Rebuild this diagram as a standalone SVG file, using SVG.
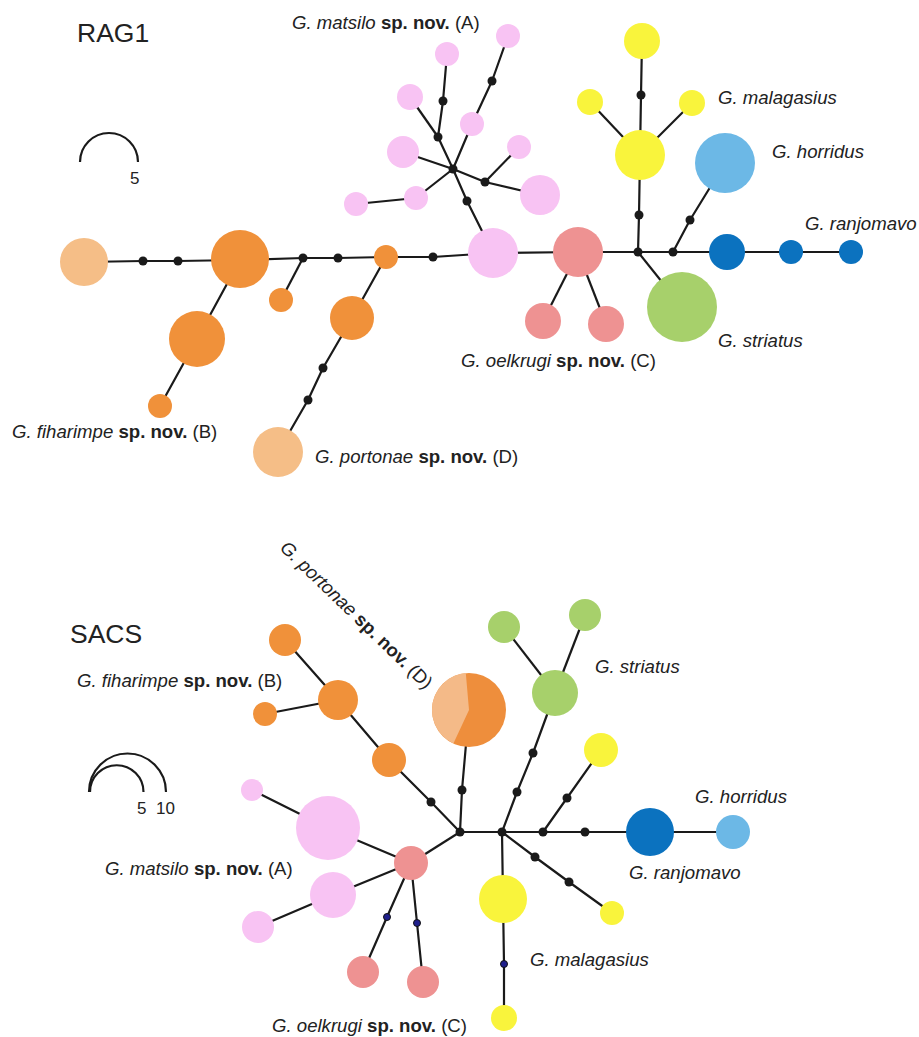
<svg xmlns="http://www.w3.org/2000/svg" width="919" height="1037" viewBox="0 0 919 1037">
<style>
.e{stroke:#1a1a1a;stroke-width:2.2;fill:none;stroke-linejoin:round}
.m{fill:#1a1a1a}
.nv{fill:#1f1f8c;stroke:#111;stroke-width:1}
.pk{fill:#F8C3F3}
.or{fill:#F0913A}
.lo{fill:#F5BE87}
.sa{fill:#EE9292}
.ye{fill:#F9F43C}
.gr{fill:#A7D06B}
.db{fill:#0B72BF}
.lb{fill:#6CB8E6}
text{font-family:"Liberation Sans",Arial,sans-serif;fill:#222}
.lab{font-size:18.6px}
.t{font-size:26.5px}
.sc{font-size:17px}
</style>
<rect width="919" height="1037" fill="#fff"/>

<!-- ================= RAG1 ================= -->
<text class="t" x="77" y="42">RAG1</text>
<g id="rag1-scale">
<path class="e" d="M80,162 A29,29 0 0 1 138,162"/>
<text class="sc" x="130" y="184">5</text>
</g>

<g id="rag1-connectors">
<polyline class="e" points="84,262 143,261 178,261 240,260 303,258 338,258 386,257 433,257 493,253 578,252 638,252 673,252 727,252 791,252 851,252"/>
<polyline class="e" points="240,260 197,339 160,406"/>
<polyline class="e" points="303,258 281,300"/>
<polyline class="e" points="386,257 352,318 323,368 308,400 278,452"/>
<polyline class="e" points="493,253 467,201 453,169"/>
<polyline class="e" points="453,169 438,137 443,101 447,54"/>
<polyline class="e" points="438,137 410,97"/>
<polyline class="e" points="453,169 472,124 492,81 508,36"/>
<polyline class="e" points="453,169 403,152"/>
<polyline class="e" points="453,169 416,198 356,204"/>
<polyline class="e" points="453,169 485,182 540,195"/>
<polyline class="e" points="485,182 519,147"/>
<polyline class="e" points="578,252 543,321"/>
<polyline class="e" points="578,252 606,324"/>
<polyline class="e" points="638,252 639,215 640,155 641,95 642,41"/>
<polyline class="e" points="640,155 590,102"/>
<polyline class="e" points="640,155 692,103"/>
<polyline class="e" points="638,252 682,307"/>
<polyline class="e" points="673,252 690,220 725,163"/>
</g>

<g id="rag1-medians">
<circle class="m" cx="143" cy="261" r="4.5"/>
<circle class="m" cx="178" cy="261" r="4.5"/>
<circle class="m" cx="303" cy="258" r="4.5"/>
<circle class="m" cx="338" cy="258" r="4.5"/>
<circle class="m" cx="433" cy="257" r="4.5"/>
<circle class="m" cx="323" cy="368" r="4.5"/>
<circle class="m" cx="308" cy="400" r="4.5"/>
<circle class="m" cx="453" cy="169" r="4.5"/>
<circle class="m" cx="438" cy="137" r="4.5"/>
<circle class="m" cx="443" cy="101" r="4.5"/>
<circle class="m" cx="492" cy="81" r="4.5"/>
<circle class="m" cx="485" cy="182" r="4.5"/>
<circle class="m" cx="467" cy="201" r="4.5"/>
<circle class="m" cx="638" cy="252" r="4.5"/>
<circle class="m" cx="673" cy="252" r="4.5"/>
<circle class="m" cx="639" cy="215" r="4.5"/>
<circle class="m" cx="641" cy="95" r="4.5"/>
<circle class="m" cx="690" cy="220" r="4.5"/>
</g>

<g id="r-lo1"><circle class="lo" cx="84" cy="262" r="24"/></g>
<g id="r-or1"><circle class="or" cx="240" cy="259" r="29"/></g>
<g id="r-or2"><circle class="or" cx="197" cy="339" r="28"/></g>
<g id="r-or3"><circle class="or" cx="160" cy="406" r="12"/></g>
<g id="r-or4"><circle class="or" cx="281" cy="300" r="12"/></g>
<g id="r-or5"><circle class="or" cx="386" cy="257" r="12"/></g>
<g id="r-or6"><circle class="or" cx="352" cy="318" r="22"/></g>
<g id="r-lo2"><circle class="lo" cx="278" cy="452" r="25"/></g>
<g id="r-pk1"><circle class="pk" cx="493" cy="253" r="25"/></g>
<g id="r-pk2"><circle class="pk" cx="508" cy="36" r="12"/></g>
<g id="r-pk3"><circle class="pk" cx="472" cy="124" r="12"/></g>
<g id="r-pk4"><circle class="pk" cx="447" cy="54" r="12"/></g>
<g id="r-pk5"><circle class="pk" cx="410" cy="97" r="13"/></g>
<g id="r-pk6"><circle class="pk" cx="403" cy="152" r="16"/></g>
<g id="r-pk7"><circle class="pk" cx="416" cy="198" r="12"/></g>
<g id="r-pk8"><circle class="pk" cx="356" cy="204" r="12"/></g>
<g id="r-pk9"><circle class="pk" cx="540" cy="195" r="20"/></g>
<g id="r-pk10"><circle class="pk" cx="519" cy="147" r="12"/></g>
<g id="r-sa1"><circle class="sa" cx="578" cy="252" r="25"/></g>
<g id="r-sa2"><circle class="sa" cx="543" cy="321" r="18"/></g>
<g id="r-sa3"><circle class="sa" cx="606" cy="324" r="18"/></g>
<g id="r-gr1"><circle class="gr" cx="682" cy="307" r="35"/></g>
<g id="r-ye1"><circle class="ye" cx="642" cy="41" r="18"/></g>
<g id="r-ye2"><circle class="ye" cx="640" cy="155" r="25"/></g>
<g id="r-ye3"><circle class="ye" cx="590" cy="102" r="13"/></g>
<g id="r-ye4"><circle class="ye" cx="692" cy="103" r="13"/></g>
<g id="r-lb1"><circle class="lb" cx="725" cy="163" r="30"/></g>
<g id="r-db1"><circle class="db" cx="727" cy="252" r="18"/></g>
<g id="r-db2"><circle class="db" cx="791" cy="252" r="12"/></g>
<g id="r-db3"><circle class="db" cx="851" cy="252" r="12"/></g>

<rect x="440" y="342" width="320" height="32" fill="#fff"/>
<g id="rag1-labels" class="lab">
<text x="292" y="29"><tspan font-style="italic">G. matsilo</tspan> <tspan font-weight="bold">sp. nov.</tspan> (A)</text>
<text x="718" y="104" font-style="italic">G. malagasius</text>
<text x="772" y="158" font-style="italic">G. horridus</text>
<text x="805" y="230" font-style="italic">G. ranjomavo</text>
<text x="718" y="347" font-style="italic">G. striatus</text>
<text x="461" y="367"><tspan font-style="italic">G. oelkrugi</tspan> <tspan font-weight="bold">sp. nov.</tspan> (C)</text>
<text x="12" y="438"><tspan font-style="italic">G. fiharimpe</tspan> <tspan font-weight="bold">sp. nov.</tspan> (B)</text>
<text x="315" y="463"><tspan font-style="italic">G. portonae</tspan> <tspan font-weight="bold">sp. nov.</tspan> (D)</text>
</g>

<!-- ================= SACS ================= -->
<text class="t" x="70" y="643">SACS</text>
<g id="sacs-scale">
<path class="e" d="M89,792 A38.5,38.5 0 0 1 166,792"/>
<path class="e" d="M90,792 A26.75,26.75 0 0 1 143.5,792"/>
<text class="sc" x="137" y="814">5</text>
<text class="sc" x="156" y="814">10</text>
</g>

<g id="sacs-connectors">
<polyline class="e" points="285,640 338,700 389,760 431,802 460,832"/>
<polyline class="e" points="338,700 265,714"/>
<polyline class="e" points="469,710 462,790 460,832"/>
<polyline class="e" points="460,832 502,832 543,832 585,832 650,832 733,832"/>
<polyline class="e" points="555,693 504,627"/>
<polyline class="e" points="555,693 585,615"/>
<polyline class="e" points="555,693 533,753 517,792 502,832"/>
<polyline class="e" points="601,750 567,798 543,832"/>
<polyline class="e" points="502,832 535,857 569,882 612,913"/>
<polyline class="e" points="502,832 503,899 504,964 504,1018"/>
<polyline class="e" points="460,832 411,863"/>
<polyline class="e" points="411,863 328,828 252,790"/>
<polyline class="e" points="411,863 333,895 258,927"/>
<polyline class="e" points="411,863 387,917 363,972"/>
<polyline class="e" points="411,863 417,923 423,982"/>
</g>

<g id="sacs-medians">
<circle class="m" cx="431" cy="802" r="4.5"/>
<circle class="m" cx="460" cy="832" r="4.5"/>
<circle class="m" cx="462" cy="790" r="4.5"/>
<circle class="m" cx="502" cy="832" r="4.5"/>
<circle class="m" cx="543" cy="832" r="4.5"/>
<circle class="m" cx="585" cy="832" r="4.5"/>
<circle class="m" cx="533" cy="753" r="4.5"/>
<circle class="m" cx="517" cy="792" r="4.5"/>
<circle class="m" cx="567" cy="798" r="4.5"/>
<circle class="m" cx="535" cy="857" r="4.5"/>
<circle class="m" cx="569" cy="882" r="4.5"/>
<circle class="nv" cx="387" cy="917" r="3.5"/>
<circle class="nv" cx="417" cy="923" r="3.5"/>
<circle class="nv" cx="504" cy="964" r="3.5"/>
</g>

<g id="s-or1"><circle class="or" cx="285" cy="640" r="16"/></g>
<g id="s-or2"><circle class="or" cx="338" cy="700" r="20"/></g>
<g id="s-or3"><circle class="or" cx="265" cy="714" r="12"/></g>
<g id="s-or4"><circle class="or" cx="389" cy="760" r="17"/></g>
<g id="s-or5">
<circle fill="#EE8E3C" cx="469" cy="710" r="37"/>
<path fill="#F4BA88" d="M469,710 L465.8,673.1 A37,37 0 0 0 453.4,743.5 Z"/>
</g>
<g id="s-gr1"><circle class="gr" cx="555" cy="693" r="23"/></g>
<g id="s-gr2"><circle class="gr" cx="504" cy="627" r="16"/></g>
<g id="s-gr3"><circle class="gr" cx="585" cy="615" r="16"/></g>
<g id="s-ye1"><circle class="ye" cx="601" cy="750" r="17"/></g>
<g id="s-ye2"><circle class="ye" cx="503" cy="899" r="24"/></g>
<g id="s-ye3"><circle class="ye" cx="612" cy="913" r="12"/></g>
<g id="s-ye4"><circle class="ye" cx="504" cy="1018" r="13"/></g>
<g id="s-db1"><circle class="db" cx="650" cy="832" r="24"/></g>
<g id="s-lb1"><circle class="lb" cx="733" cy="832" r="17"/></g>
<g id="s-sa1"><circle class="sa" cx="411" cy="863" r="17"/></g>
<g id="s-sa2"><circle class="sa" cx="363" cy="972" r="16"/></g>
<g id="s-sa3"><circle class="sa" cx="423" cy="982" r="16"/></g>
<g id="s-pk1"><circle class="pk" cx="328" cy="828" r="32"/></g>
<g id="s-pk2"><circle class="pk" cx="252" cy="790" r="11"/></g>
<g id="s-pk3"><circle class="pk" cx="333" cy="895" r="23"/></g>
<g id="s-pk4"><circle class="pk" cx="258" cy="927" r="16"/></g>

<rect x="240" y="998" width="230" height="39" fill="#fff"/>
<g id="sacs-labels" class="lab">
<text x="279" y="549" transform="rotate(44 279 549)"><tspan font-style="italic">G. portonae</tspan> <tspan font-weight="bold">sp. nov.</tspan> (D)</text>
<text x="77" y="687"><tspan font-style="italic">G. fiharimpe</tspan> <tspan font-weight="bold">sp. nov.</tspan> (B)</text>
<text x="595" y="673" font-style="italic">G. striatus</text>
<text x="695" y="803" font-style="italic">G. horridus</text>
<text x="629" y="879" font-style="italic">G. ranjomavo</text>
<text x="105" y="875"><tspan font-style="italic">G. matsilo</tspan> <tspan font-weight="bold">sp. nov.</tspan> (A)</text>
<text x="530" y="966" font-style="italic">G. malagasius</text>
<text x="272" y="1032"><tspan font-style="italic">G. oelkrugi</tspan> <tspan font-weight="bold">sp. nov.</tspan> (C)</text>
</g>
</svg>
